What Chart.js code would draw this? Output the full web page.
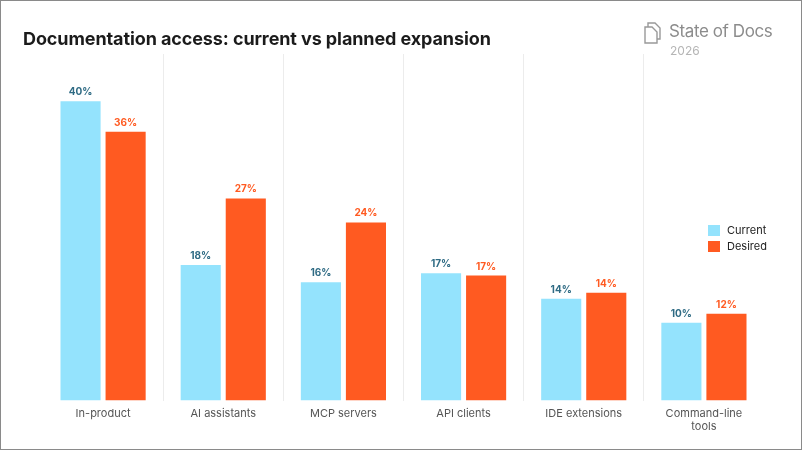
<!DOCTYPE html>
<html>
<head>
<meta charset="utf-8">
<script src="https://cdn.jsdelivr.net/npm/chart.js@4"></script>
<style>
  html, body { margin: 0; padding: 0; background: #fff; }
  #wrap { position: relative; width: 800px; height: 448px; border: 1px solid #8a8a8a; font-family: Inter, "Noto Sans", sans-serif; }
  #title { position: absolute; left: 22px; top: 27px; font-size: 18px; font-weight: 700; color: #1b1b1b; letter-spacing: -0.1px; }
  #brand { position: absolute; left: 642px; top: 20px; color: #8c8c8c; }
  #brand .name { position: absolute; left: 26px; top: 0; font-size: 17px; white-space: nowrap; letter-spacing: -0.4px; }
  #brand .year { position: absolute; left: 27px; top: 22px; font-size: 12px; color: #b5b5b5; }
  canvas { position: absolute; left: 0; top: 0; }
</style>
</head>
<body>
<div id="wrap">
  <canvas id="chart" width="800" height="448"></canvas>
  <div id="title">Documentation access: current vs planned expansion</div>
  <div id="brand">
    <svg width="20" height="22" viewBox="0 0 20 22" style="position:absolute;left:0;top:1px">
      <path d="M5 1 H12 L17 6 V17 H5 Z" fill="none" stroke="#999" stroke-width="1.4"/>
      <path d="M2 5 H9 L14 10 V21 H2 Z" fill="#fff" stroke="#999" stroke-width="1.4"/>
    </svg>
    <span class="name">State of Docs</span>
    <span class="year">2026</span>
  </div>
</div>
<script>
// Chart data
var categories = ["In-product", "AI assistants", "MCP servers", "API clients", "IDE extensions", ["Command-line", "tools"]];
var currentValues = [40, 18.1, 15.8, 17.0, 13.6, 10.4];
var desiredValues = [35.9, 27, 23.8, 16.7, 14.4, 11.6];
var seriesNames = ["Current", "Desired"];

var barColors = ["#94e3fd", "#ff5a21"];
var labelColors = ["#2f6b84", "#ff5a21"];

// value labels above each bar
var valueLabels = {
    id: 'valueLabels',
    afterDatasetsDraw: function(chart) {
        var ctx = chart.ctx;
        ctx.save();
        ctx.font = "bold 10px Inter, sans-serif";
        ctx.textAlign = "center";
        ctx.textBaseline = "bottom";
        chart.data.datasets.forEach(function(ds, i) {
            ctx.fillStyle = labelColors[i];
            chart.getDatasetMeta(i).data.forEach(function(bar, j) {
                ctx.fillText(Math.round(ds.data[j]) + "%", bar.x, bar.y - 4);
            });
        });
        ctx.restore();
    }
};

// legend drawn inside the plot, right side
var insideLegend = {
    id: 'insideLegend',
    afterDraw: function(chart) {
        var ctx = chart.ctx;
        var x = chart.chartArea.right - 56;
        var y = 224;
        ctx.save();
        ctx.font = "11px Inter, sans-serif";
        ctx.textBaseline = "middle";
        seriesNames.forEach(function(name, i) {
            ctx.fillStyle = barColors[i];
            ctx.fillRect(x, y + i * 16, 12, 11);
            ctx.fillStyle = "#222";
            ctx.fillText(name, x + 19, y + i * 16 + 6);
        });
        ctx.restore();
    }
};

new Chart(document.getElementById('chart'), {
    type: 'bar',
    data: {
        labels: categories,
        datasets: [
            { label: seriesNames[0], data: currentValues, backgroundColor: barColors[0] },
            { label: seriesNames[1], data: desiredValues, backgroundColor: barColors[1] }
        ]
    },
    options: {
        responsive: false,
        animation: false,
        devicePixelRatio: 1,
        layout: { padding: { top: 53, left: 42, right: 37, bottom: 10 } },
        datasets: { bar: { categoryPercentage: 0.75, barPercentage: 0.89 } },
        plugins: {
            legend: { display: false },
            tooltip: { enabled: false }
        },
        scales: {
            x: {
                offset: true,
                grid: {
                    offset: true,
                    drawTicks: false,
                    color: function(c) {
                        // hide the outer two lines, keep the separators between categories
                        return (c.type !== 'tick' || c.index === 0) ? 'rgba(0,0,0,0)' : '#ececec';
                    }
                },
                border: { display: false },
                ticks: { color: "#555", font: { family: "Inter, sans-serif", size: 11 }, padding: 6, maxRotation: 0 }
            },
            y: {
                display: false,
                min: 0,
                max: 46.3
            }
        }
    },
    plugins: [valueLabels, insideLegend]
});
</script>
</body>
</html>
